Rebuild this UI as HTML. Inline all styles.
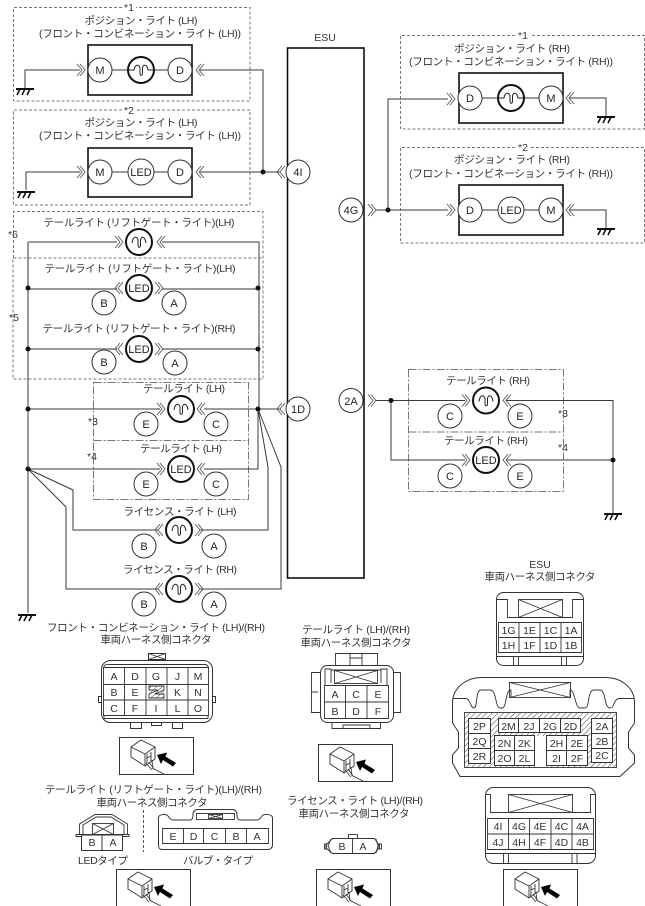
<!DOCTYPE html>
<html lang="ja"><head><meta charset="utf-8"><title>ESU</title>
<style>
html,body{margin:0;padding:0;background:#fff;width:645px;height:906px;overflow:hidden}
svg{display:block}
text{font-family:"Liberation Sans","Noto Sans CJK JP",sans-serif;font-size:10.5px;fill:#333;text-anchor:middle}
.c{font-size:11px;fill:#222}
.w{fill:none;stroke:#3a3a3a;stroke-width:1}
.wg{fill:none;stroke:#777;stroke-width:1.5}
.d{fill:none;stroke:#777;stroke-width:1;stroke-dasharray:3 2}
.dd{fill:none;stroke:#777;stroke-width:1;stroke-dasharray:8 2 2 2}
.n{fill:#fff;stroke:#333;stroke-width:1}
.ln{fill:none;stroke:#333;stroke-width:.9}
</style></head><body>
<svg width="645" height="906" viewBox="0 0 645 906" xmlns="http://www.w3.org/2000/svg">
<defs>
<path id="r" d="M0-6L5 0 0 6M3-6L8 0 3 6" fill="none" stroke="#555" stroke-width=".9"/>
<path id="l" d="M8-6L3 0 8 6M5-6L0 0 5 6" fill="none" stroke="#555" stroke-width=".9"/>
<g id="b"><circle r="13" fill="#fff" stroke="#111" stroke-width="2"/><path d="M-13 0H-7C-6-6-2-6-1-2V3C-1 6 1.500 6 1.500 3V-2C2-6 6-6 7 0H13" fill="none" stroke="#222" stroke-width="1"/></g>
<g id="bb"><circle r="13" fill="#fff" stroke="#111" stroke-width="2"/><path d="M-7 1C-6-6-2-6-1-2V3C-1 6 1.500 6 1.500 3V-2C2-6 6-6 7 1" fill="none" stroke="#222" stroke-width="1"/></g>
<circle id="L" r="13" fill="#fff" stroke="#111" stroke-width="2"/>
<circle id="p" r="12" fill="#fff" stroke="#333" stroke-width="1"/>
<g id="g"><path d="M-9 0H9" stroke="#111" stroke-width="2"/><path d="M-5 0L-8 6M0 0L-3 6M5 0L2 6" stroke="#111" stroke-width="1.600" fill="none"/></g>
<pattern id="h" width="4" height="4" patternUnits="userSpaceOnUse" patternTransform="rotate(-45)"><rect width="4" height="4" fill="#fff"/><path d="M0 0H4" stroke="#444" stroke-width="1"/></pattern>
<g id="i"><rect x=".5" y=".5" width="74" height="37" fill="#fff" stroke="#333"/>
<path d="M12 10L22 3 36 10V22L26 29 12 20ZM12 10L26 17 36 10M26 17V29" fill="#fff" stroke="#333" stroke-width=".9"/>
<path d="M28 17V26M32 15V24M28 21L32 19" stroke="#333" stroke-width=".9" fill="none"/>
<path d="M27 26L33 33M30 25L35 32 45 37M33 23L34 32" stroke="#333" stroke-width=".8" fill="none"/>
<path d="M38 18L48 15.500 46.500 19.500 57 26 54 29.500 44 23 42 27Z" fill="#000"/></g>
</defs>

<!-- dashed groups -->
<path class="d" d="M122 7.500H13.500V101H250V7.500H136"/>
<path class="d" d="M122 110H13.500V205H250V110H136"/>
<path class="d" d="M13.500 258V211.500H263V379H13V258H263"/>
<path class="d" d="M515 35.500H400.500V129H644.500V35.500H530"/>
<path class="d" d="M515 147.500H400.500V243H644.500V147.500H530"/>
<rect class="dd" x="93.500" y="382.500" width="155" height="117"/><path class="dd" d="M93.500 440.500H248.500"/>
<rect class="dd" x="408.500" y="369.500" width="155" height="122"/><path class="dd" d="M408.500 432H563.500"/>

<!-- ESU -->
<rect x="287.500" y="48" width="76.500" height="530" fill="none" stroke="#111" stroke-width="1.600"/>
<text x="325" y="41">ESU</text>

<!-- wires -->
<path class="w" d="M25 88V70H80M200 70H263V172M26 190V172H80M200 172H280"/>
<path class="w" d="M376 210H448M388 210V99H448M570 98H606V116M570 210H606V228"/>
<path class="w" d="M28 289V613M28 242H117M162 242H259V289"/>
<path class="wg" d="M28 242V289M28 289H117M162 289H258M28 349H117M162 349H258"/>
<path class="w" d="M259 289V409M28 409H160M204 409H280"/>
<path class="w" d="M28 469H160M204 469H258V409M258 409L268 467V530H200M158 530H73V490L28 469M258 409L281 467V589H200M158 589H66V507L28 469"/>
<path class="w" d="M376 400.500H465M506 400.500H613V513M391 400.500V460H465M506 460H613"/>

<!-- dots -->
<g fill="#111"><circle cx="263" cy="172" r="2.500"/><circle cx="388" cy="210" r="2.500"/><circle cx="28" cy="288" r="2.500"/><circle cx="258" cy="288" r="2.500"/><circle cx="28" cy="349" r="2.500"/><circle cx="258" cy="349" r="2.500"/><circle cx="28" cy="409" r="2.500"/><circle cx="258" cy="409" r="2.500"/><circle cx="28" cy="469" r="2.500"/><circle cx="391" cy="400.500" r="2.500"/><circle cx="613" cy="460" r="2.500"/></g>

<!-- grounds -->
<use href="#g" x="25" y="89"/><use href="#g" x="26" y="192"/><use href="#g" x="606" y="117"/><use href="#g" x="606" y="229"/><use href="#g" x="27" y="615"/><use href="#g" x="613" y="514"/>

<!-- front LH -->
<rect x="88" y="45" width="104" height="50" fill="#fff" stroke="#111" stroke-width="1.600"/>
<rect x="88" y="148" width="104" height="49" fill="#fff" stroke="#111" stroke-width="1.600"/>
<path class="w" d="M100 70H180M100 172H180"/>
<use href="#p" x="100" y="70"/><use href="#b" x="141" y="70"/><use href="#p" x="180" y="70"/>
<use href="#p" x="100" y="172"/><circle cx="141" cy="172" r="13" fill="#fff" stroke="#333"/><use href="#p" x="180" y="172"/>
<text class="c" x="100" y="74">M</text><text class="c" x="180" y="74">D</text>
<text class="c" x="100" y="176">M</text><text class="c" x="141" y="176">LED</text><text class="c" x="180" y="176">D</text>
<use href="#r" x="77" y="70"/><use href="#l" x="196" y="70"/><use href="#r" x="77" y="172"/><use href="#l" x="196" y="172"/>

<!-- front RH -->
<rect x="459" y="73" width="104" height="50" fill="#fff" stroke="#111" stroke-width="1.600"/>
<rect x="459" y="185" width="104" height="50" fill="#fff" stroke="#111" stroke-width="1.600"/>
<path class="w" d="M470 98H551M470 210H551"/>
<use href="#p" x="470" y="98"/><use href="#b" x="511" y="98"/><use href="#p" x="551" y="98"/>
<use href="#p" x="470" y="210"/><circle cx="511" cy="210" r="13" fill="#fff" stroke="#333"/><use href="#p" x="551" y="210"/>
<text class="c" x="470" y="102">D</text><text class="c" x="551" y="102">M</text>
<text class="c" x="470" y="214">D</text><text class="c" x="511" y="214">LED</text><text class="c" x="551" y="214">M</text>
<use href="#r" x="447" y="99"/><use href="#l" x="566" y="98"/><use href="#r" x="447" y="210"/><use href="#l" x="566" y="210"/>

<!-- ESU pins -->
<use href="#r" x="368" y="210"/><use href="#r" x="368" y="400.500"/>
<use href="#l" x="277" y="172"/><use href="#l" x="277" y="409"/>
<use href="#p" x="298" y="172"/><use href="#p" x="298" y="409"/><use href="#p" x="351" y="210"/><use href="#p" x="351" y="400.500"/>
<text class="c" x="298" y="176">4I</text><text class="c" x="298" y="413">1D</text><text class="c" x="351" y="214">4G</text><text class="c" x="351" y="405">2A</text>

<!-- tail gate -->
<use href="#bb" x="139" y="242"/><use href="#r" x="115" y="242"/><use href="#l" x="157" y="242"/>
<use href="#L" x="139" y="288"/><use href="#l" x="115" y="288"/><use href="#r" x="155" y="288"/>
<use href="#L" x="139" y="349"/><use href="#l" x="115" y="349"/><use href="#r" x="155" y="349"/>
<text class="c" x="139" y="292">LED</text><text class="c" x="139" y="353">LED</text>
<use href="#p" x="104" y="303"/><use href="#p" x="174" y="303"/><use href="#p" x="104" y="362"/><use href="#p" x="175" y="363"/>
<text class="c" x="104" y="307">B</text><text class="c" x="174" y="307">A</text><text class="c" x="104" y="366">B</text><text class="c" x="175" y="367">A</text>

<!-- tail LH -->
<use href="#bb" x="181" y="409"/><use href="#r" x="157" y="409"/><use href="#l" x="197" y="409"/>
<use href="#L" x="181" y="469"/><use href="#r" x="157" y="469"/><use href="#l" x="197" y="469"/>
<text class="c" x="181" y="473">LED</text>
<use href="#p" x="146" y="424"/><use href="#p" x="216" y="424"/><use href="#p" x="146" y="484"/><use href="#p" x="216" y="484"/>
<text class="c" x="146" y="428">E</text><text class="c" x="216" y="428">C</text><text class="c" x="146" y="488">E</text><text class="c" x="216" y="488">C</text>

<!-- license -->
<use href="#bb" x="179" y="530"/><use href="#l" x="155" y="530"/><use href="#r" x="195" y="530"/>
<use href="#bb" x="179" y="589"/><use href="#l" x="155" y="589"/><use href="#r" x="195" y="589"/>
<use href="#p" x="144" y="546"/><use href="#p" x="214" y="546"/><use href="#p" x="144" y="604"/><use href="#p" x="214" y="604"/>
<text class="c" x="144" y="550">B</text><text class="c" x="214" y="550">A</text><text class="c" x="144" y="608">B</text><text class="c" x="214" y="608">A</text>

<!-- tail RH -->
<use href="#bb" x="486" y="400.500"/><use href="#r" x="462" y="400.500"/><use href="#l" x="503" y="400.500"/>
<use href="#L" x="486" y="460"/><use href="#r" x="462" y="460"/><use href="#l" x="503" y="460"/>
<text class="c" x="486" y="464">LED</text>
<use href="#p" x="450" y="416"/><use href="#p" x="520" y="416"/><use href="#p" x="450" y="476"/><use href="#p" x="520" y="476"/>
<text class="c" x="450" y="420">C</text><text class="c" x="520" y="420">E</text><text class="c" x="450" y="480">C</text><text class="c" x="520" y="480">E</text>

<!-- labels -->
<rect x="122" y="2" width="14" height="10" fill="#fff"/><rect x="122" y="105" width="14" height="10" fill="#fff"/><rect x="516" y="30" width="14" height="10" fill="#fff"/><rect x="516" y="142" width="14" height="10" fill="#fff"/>
<text x="129" y="11">*1</text><text x="129" y="114">*2</text><text x="523" y="39">*1</text><text x="523" y="151">*2</text>
<text x="141" y="24" textLength="113">ポジション・ライト (LH)</text>
<text x="140" y="37" textLength="202">(フロント・コンビネーション・ライト (LH))</text>
<text x="141" y="126" textLength="113">ポジション・ライト (LH)</text>
<text x="140" y="139" textLength="202">(フロント・コンビネーション・ライト (LH))</text>
<text x="512" y="52" textLength="116">ポジション・ライト (RH)</text>
<text x="511" y="65" textLength="204">(フロント・コンビネーション・ライト (RH))</text>
<text x="512" y="163" textLength="116">ポジション・ライト (RH)</text>
<text x="511" y="177" textLength="204">(フロント・コンビネーション・ライト (RH))</text>
<text x="139" y="226" textLength="191">テールライト (リフトゲート・ライト)(LH)</text>
<text x="140" y="272" textLength="191">テールライト (リフトゲート・ライト)(LH)</text>
<text x="139" y="332" textLength="193">テールライト (リフトゲート・ライト)(RH)</text>
<text x="184" y="392" textLength="82">テールライト (LH)</text>
<text x="181" y="452" textLength="82">テールライト (LH)</text>
<text x="180" y="515" textLength="113">ライセンス・ライト (LH)</text>
<text x="180" y="573" textLength="114">ライセンス・ライト (RH)</text>
<text x="488" y="384" textLength="84">テールライト (RH)</text>
<text x="486" y="444" textLength="84">テールライト (RH)</text>
<text x="13" y="238">*6</text><text x="14" y="321">*5</text><text x="93" y="425">*3</text><text x="92" y="460">*4</text><text x="563" y="417">*3</text><text x="563" y="451">*4</text>

<!-- front connector -->
<text x="156" y="631" textLength="218">フロント・コンビネーション・ライト (LH)/(RH)</text>
<text x="156" y="643" textLength="111">車両ハーネス側コネクタ</text>
<rect class="n" x="148.500" y="653.500" width="17" height="6"/><path class="ln" d="M148.500 653.500L165.500 659.500M165.500 653.500L148.500 659.500"/>
<path class="n" d="M98.500 696.500H101.500V702.500H98.500ZM212.500 696.500H215.500V702.500H212.500ZM130.500 722V728.500H141.500V722M151.500 722V725.500H161.500V722M172.500 722V728.500H182.500V722"/>
<rect class="n" x="101.500" y="660.500" width="111" height="62" rx="9"/>
<path class="ln" d="M104 667C104 664 107 664.500 110 664.500H205C208 664.500 208 667 208 667M104 715V718.500H208V715"/>
<path class="ln" d="M103.500 667.500H208.500V715.500H103.500ZM124.500 667.500V715.500M146 667.500V715.500M167 667.500V715.500M188 667.500V715.500M103.500 684.500H208.500M103.500 700H208.500"/>
<rect x="149" y="686" width="15" height="12" fill="url(#h)"/><path class="ln" d="M149 686H164V690L155 694H164V698H149V694L158 690H149Z"/>
<g><text x="114" y="680">A</text><text x="135" y="680">D</text><text x="156" y="680">G</text><text x="177.500" y="680">J</text><text x="198" y="680">M</text>
<text x="114" y="696">B</text><text x="135" y="696">E</text><text x="177.500" y="696">K</text><text x="198" y="696">N</text>
<text x="114" y="712">C</text><text x="135" y="712">F</text><text x="156" y="712">I</text><text x="177.500" y="712">L</text><text x="198" y="712">O</text></g>
<use href="#i" x="119" y="737"/>

<!-- tail connector -->
<text x="356" y="633" textLength="108">テールライト (LH)/(RH)</text>
<text x="356" y="646" textLength="111">車両ハーネス側コネクタ</text>
<path class="ln" d="M335.500 665V653.500H377.500V665M350 653.500V665M362 653.500V665M350 658H362"/>
<path class="ln" d="M320 672.500H311.500V712.500H320M393 672.500H400.500V712.500H393M318 692H311M332 722V728.500H380.500V722M343 728.500V725H370V728.500"/>
<rect class="n" x="320.500" y="665.500" width="73" height="57" rx="7"/>
<path class="ln" d="M325 685V669H331V683M381 683V669H387V685M331 670H381"/>
<rect class="ln" x="334.500" y="670.500" width="43" height="13"/><path class="ln" d="M334.500 670.500L377.500 683.500M377.500 670.500L334.500 683.500"/>
<path class="ln" d="M324.500 685.500H388.500V718.500H324.500ZM345.500 685.500V718.500M367 685.500V718.500M324.500 702H388.500"/>
<text x="335" y="698">A</text><text x="356" y="698">C</text><text x="378" y="698">E</text><text x="335" y="715">B</text><text x="356" y="715">D</text><text x="378" y="715">F</text>
<use href="#i" x="318" y="744"/>

<!-- ESU connector titles -->
<text x="540" y="568">ESU</text>
<text x="540" y="580" textLength="111">車両ハーネス側コネクタ</text>

<!-- ESU connector 1 -->
<rect class="n" x="496.500" y="592.500" width="87" height="73" rx="7"/>
<path class="ln" d="M496.500 599.500H507.500V617.500H572.500V599.500H583.500"/>
<rect class="ln" x="518.500" y="599.500" width="44" height="18"/><path class="ln" d="M518.500 599.500L562.500 617.500M562.500 599.500L518.500 617.500"/>
<path class="ln" d="M498.500 622.500H581.500V652.500H498.500ZM519 622.500V652.500M540 622.500V652.500M561 622.500V652.500M498.500 637.500H581.500"/>
<path class="ln" d="M496.500 656.500H583.500M513.500 656.500V665.500M518.500 656.500V665.500M561.500 656.500V665.500M566.500 656.500V665.500"/>
<text x="508.500" y="634">1G</text><text x="529.500" y="634">1E</text><text x="550.500" y="634">1C</text><text x="571" y="634">1A</text>
<text x="508.500" y="649">1H</text><text x="529.500" y="649">1F</text><text x="550.500" y="649">1D</text><text x="571" y="649">1B</text>

<!-- ESU connector 2 -->
<path class="n" d="M460 776.500L452.500 763V755L458.500 748V732L452.500 723V703C452.500 688 466 677.500 482 677.500H605C622 677.500 634.500 688 634.500 703V723L628.500 732V748L634.500 755V763L620 776.500Z"/>
<path class="ln" d="M452.500 698.500H465C471 698.500 470 708 474 708 C478 708 475 690 481 690H490C497 690 495 708 500 708H502C507 708 505 690 511 690V697M570 697V690C575 690 575 708 580 708H585C590 708 587 690 594 690H600C606 690 604 708 610 708C615 708 613 698.500 620 698.500H634.500"/>
<rect class="ln" x="509.500" y="682.500" width="61" height="15"/><path class="ln" d="M509.500 682.500L570.500 697.500M570.500 682.500L509.500 697.500"/>
<rect x="464.500" y="712.500" width="152" height="55" fill="url(#h)" stroke="#333" stroke-width=".9"/>
<path class="n" d="M468.500 718.500H490.500V763.500H468.500ZM468.500 733.500H490.500M468.500 748.500H490.500"/>
<path class="n" d="M498.500 718.500H580.500V732.500H498.500ZM518.500 718.500V732.500M539.500 718.500V732.500M560.500 718.500V732.500"/>
<path class="n" d="M494.500 735.500H534.500V765.500H494.500ZM514.500 735.500V765.500M494.500 750.500H534.500"/>
<path class="n" d="M546.500 735.500H587.500V765.500H546.500ZM566.500 735.500V765.500M546.500 750.500H587.500"/>
<path d="M535 736H546V767H535Z" fill="#fff"/>
<path class="n" d="M591.500 718.500H612.500V762.500H591.500ZM591.500 733.500H612.500M591.500 748.500H612.500"/>
<text x="479.500" y="730">2P</text><text x="479.500" y="745">2Q</text><text x="479.500" y="760">2R</text>
<text x="508.500" y="730">2M</text><text x="529" y="730">2J</text><text x="550" y="730">2G</text><text x="570.500" y="730">2D</text>
<text x="504.500" y="747">2N</text><text x="524.500" y="747">2K</text><text x="504.500" y="762">2O</text><text x="524.500" y="762">2L</text>
<text x="556.500" y="747">2H</text><text x="577" y="747">2E</text><text x="556.500" y="762">2I</text><text x="577" y="762">2F</text>
<text x="602" y="730">2A</text><text x="602" y="745">2B</text><text x="602" y="759">2C</text>

<!-- ESU connector 3 -->
<rect class="n" x="485.500" y="787.500" width="110" height="76" rx="8"/>
<path class="ln" d="M485.500 794.500H490.500V812.500H590.500V794.500H595.500"/>
<rect class="ln" x="508.500" y="794.500" width="64" height="18"/><path class="ln" d="M508.500 794.500L572.500 812.500M572.500 794.500L508.500 812.500"/>
<path class="ln" d="M487.500 818.500H593.500V849.500H487.500ZM508.500 818.500V849.500M529.500 818.500V849.500M551 818.500V849.500M572 818.500V849.500M487.500 834H593.500"/>
<path class="ln" d="M485.500 853.500H595.500M503.500 853.500V863.500M508.500 853.500V863.500M572 853.500V863.500M577 853.500V863.500"/>
<text x="498" y="830">4I</text><text x="519" y="830">4G</text><text x="540" y="830">4E</text><text x="561.500" y="830">4C</text><text x="582.500" y="830">4A</text>
<text x="498" y="846">4J</text><text x="519" y="846">4H</text><text x="540" y="846">4F</text><text x="561.500" y="846">4D</text><text x="582.500" y="846">4B</text>
<use href="#i" x="503" y="869"/>

<!-- tail gate connector -->
<text x="153.500" y="793" textLength="217">テールライト (リフトゲート・ライト)(LH)/(RH)</text>
<text x="152" y="806" textLength="111">車両ハーネス側コネクタ</text>
<path class="ln" d="M79.500 834V824L95 814.500H112L127.500 824V834M83 834V825L96 817H111L124 825V834M76 834.500H129V836.500H76Z"/>
<rect class="ln" x="92.500" y="823.500" width="21" height="11"/><path class="ln" d="M92.500 823.500L113.500 834.500M113.500 823.500L92.500 834.500"/>
<path class="n" d="M81.500 835H122.500V850.500H81.500ZM102 835V850.500"/>
<text x="92" y="846">B</text><text x="113" y="846">A</text>
<path d="M143.500 810V852" stroke="#555" stroke-dasharray="3 2" fill="none"/>
<path class="n" d="M158.500 818C158.500 814 166 813.500 168 816C170 819 171 820 174 820H190C192 820 193 818 193 815C193 811 195 809.500 198 809.500H232C235 809.500 237 811 237 815C237 818 238 820 240 820H256C259 820 260 819 262 816C264 813.500 272.500 814 272.500 818V845C272.500 848 270 849.500 268 849.500H162C160 849.500 158.500 848 158.500 845Z"/>
<rect class="ln" x="196.500" y="813.500" width="38" height="6"/><rect class="ln" x="208.500" y="814.500" width="14" height="4"/><path class="ln" d="M208.500 814.500L222.500 818.500M222.500 814.500L208.500 818.500"/>
<path class="ln" d="M162.500 828.500H268.500V843.500H162.500ZM183.500 828.500V843.500M203.500 828.500V843.500M225.500 828.500V843.500M246.500 828.500V843.500"/>
<text x="173" y="840">E</text><text x="193.500" y="840">D</text><text x="214.500" y="840">C</text><text x="236" y="840">B</text><text x="257" y="840">A</text>
<text x="103" y="864" textLength="50">LEDタイプ</text>
<text x="218" y="864" textLength="70">バルブ・タイプ</text>
<use href="#i" x="116" y="869"/>

<!-- license connector -->
<text x="355" y="804" textLength="136">ライセンス・ライト (LH)/(RH)</text>
<text x="354" y="817" textLength="111">車両ハーネス側コネクタ</text>
<rect class="ln" x="348.500" y="834.500" width="9" height="4"/>
<path class="n" d="M332.500 838.500H374.500L379 845V848L374.500 853.500H332.500L326 848V845Z"/>
<path class="ln" d="M331 839L328 846L331 853M376 839L378 846L376 853M352.500 838.500V853.500M324.500 844H326.500V849H324.500ZM379.500 844H381.500V849H379.500Z"/>
<text x="342" y="850">B</text><text x="363" y="850">A</text>
<use href="#i" x="316" y="869"/>
</svg>
</body></html>
